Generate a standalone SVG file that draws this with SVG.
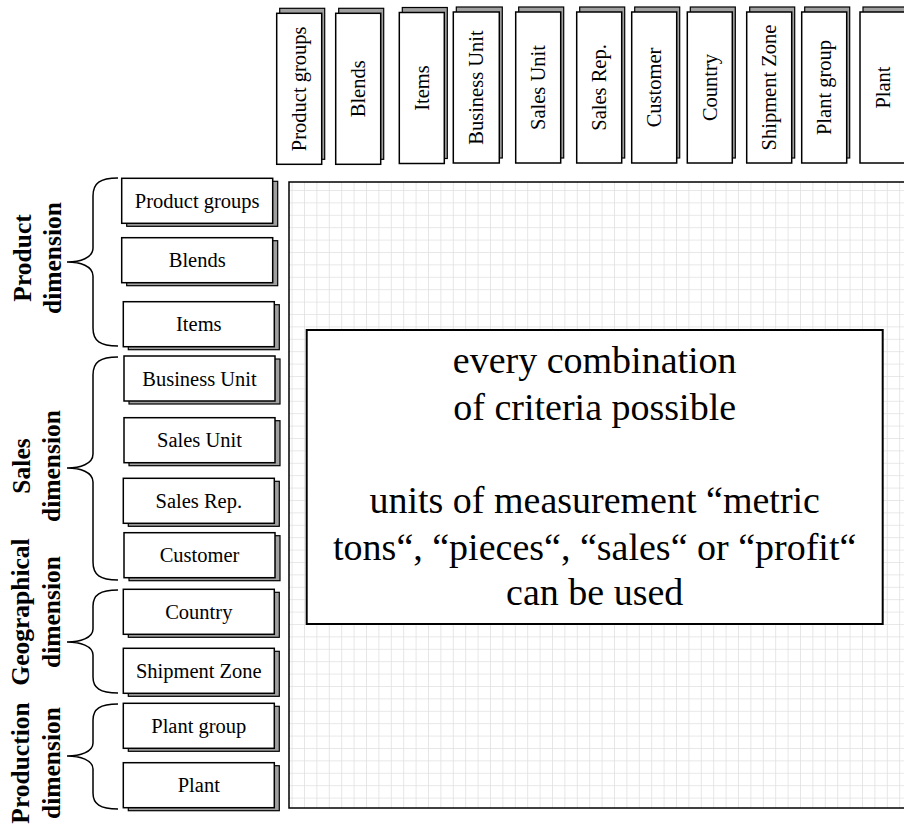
<svg xmlns="http://www.w3.org/2000/svg" width="904" height="825" viewBox="0 0 904 825">
<style>
.f{fill:#fff;stroke:#000;stroke-width:1.5}
.s{fill:#a0a0a0;stroke:#000;stroke-width:1.2}
.t{font-family:"Liberation Serif","Times New Roman",serif;font-size:20.5px;fill:#000;text-anchor:middle}
.d{font-family:"Liberation Serif","Times New Roman",serif;font-size:25.5px;font-weight:bold;fill:#000;text-anchor:middle}
.m{font-family:"Liberation Serif","Times New Roman",serif;font-size:38px;fill:#000;text-anchor:middle}
.b{fill:none;stroke:#000;stroke-width:1.5}
</style>
<defs>
<pattern id="grid" patternUnits="userSpaceOnUse" x="291.6" y="190" width="12.4" height="12.4">
<path d="M0,0H12.4M0,0V12.4" fill="none" stroke="#e0e0e0" stroke-width="1.6"/>
</pattern>
</defs>
<rect x="0" y="0" width="904" height="825" fill="#fff"/>

<g id="matrix">
<rect x="289" y="182" width="630" height="626" fill="url(#grid)" stroke="#000" stroke-width="1.5"/>
</g>
<g id="summary">
<rect x="306.7" y="330" width="576" height="294" fill="#fff" stroke="#000" stroke-width="2"/>
<text class="m" x="594.7" y="373">every combination</text>
<text class="m" x="594.7" y="420">of criteria possible</text>
<text class="m" x="594.7" y="513">units of measurement “metric</text>
<text class="m" x="594.7" y="560">tons“, “pieces“, “sales“ or “profit“</text>
<text class="m" x="594.7" y="605">can be used</text>
</g>

<!-- top column headers -->
<g id="col-product-groups"><rect class="s" x="279.7" y="8.3" width="45" height="151"/><rect class="f" x="276.7" y="13.3" width="45" height="151"/><text class="t" transform="translate(299.2,88.8) rotate(-90)" y="7">Product groups</text></g>
<g id="col-blends"><rect class="s" x="338.7" y="8.3" width="45" height="151"/><rect class="f" x="335.7" y="13.3" width="45" height="151"/><text class="t" transform="translate(358.2,88.8) rotate(-90)" y="7">Blends</text></g>
<g id="col-items"><rect class="s" x="402.3" y="7.5" width="45" height="151"/><rect class="f" x="399.3" y="12.5" width="45" height="151"/><text class="t" transform="translate(421.8,88) rotate(-90)" y="7">Items</text></g>
<g id="col-business-unit"><rect class="s" x="456.3" y="7" width="46" height="151"/><rect class="f" x="453.3" y="12" width="46" height="151"/><text class="t" transform="translate(476.3,87.5) rotate(-90)" y="7">Business Unit</text></g>
<g id="col-sales-unit"><rect class="s" x="518.7" y="7" width="45" height="151"/><rect class="f" x="515.7" y="12" width="45" height="151"/><text class="t" transform="translate(538.2,87.5) rotate(-90)" y="7">Sales Unit</text></g>
<g id="col-sales-rep"><rect class="s" x="579.7" y="7" width="45" height="151"/><rect class="f" x="576.7" y="12" width="45" height="151"/><text class="t" transform="translate(599.2,87.5) rotate(-90)" y="7">Sales Rep.</text></g>
<g id="col-customer"><rect class="s" x="634.7" y="7" width="45" height="151"/><rect class="f" x="631.7" y="12" width="45" height="151"/><text class="t" transform="translate(654.2,87.5) rotate(-90)" y="7">Customer</text></g>
<g id="col-country"><rect class="s" x="690.3" y="7" width="45" height="151"/><rect class="f" x="687.3" y="12" width="45" height="151"/><text class="t" transform="translate(709.8,87.5) rotate(-90)" y="7">Country</text></g>
<g id="col-shipment-zone"><rect class="s" x="749.7" y="7" width="45" height="151"/><rect class="f" x="746.7" y="12" width="45" height="151"/><text class="t" transform="translate(769.2,87.5) rotate(-90)" y="7">Shipment Zone</text></g>
<g id="col-plant-group"><rect class="s" x="804.7" y="7" width="45" height="151"/><rect class="f" x="801.7" y="12" width="45" height="151"/><text class="t" transform="translate(824.2,87.5) rotate(-90)" y="7">Plant group</text></g>
<g id="col-plant"><rect class="s" x="863" y="7" width="45" height="151"/><rect class="f" x="860" y="12" width="45" height="151"/><text class="t" transform="translate(882.5,87.5) rotate(-90)" y="7">Plant</text></g>

<!-- left row headers -->
<g id="row-product-groups"><rect class="s" x="126.7" y="181.3" width="151" height="45"/><rect class="f" x="121.7" y="178.3" width="151" height="45"/><text class="t" x="197.2" y="208">Product groups</text></g>
<g id="row-blends"><rect class="s" x="126.7" y="240.7" width="151" height="45"/><rect class="f" x="121.7" y="237.7" width="151" height="45"/><text class="t" x="197.2" y="267.4">Blends</text></g>
<g id="row-items"><rect class="s" x="128.3" y="304.7" width="151" height="45"/><rect class="f" x="123.3" y="301.7" width="151" height="45"/><text class="t" x="198.8" y="331.4">Items</text></g>
<g id="row-business-unit"><rect class="s" x="129" y="359" width="151" height="45"/><rect class="f" x="124" y="356" width="151" height="45"/><text class="t" x="199.5" y="385.7">Business Unit</text></g>
<g id="row-sales-unit"><rect class="s" x="129" y="420.7" width="151" height="45"/><rect class="f" x="124" y="417.7" width="151" height="45"/><text class="t" x="199.5" y="447.4">Sales Unit</text></g>
<g id="row-sales-rep"><rect class="s" x="128.3" y="481.3" width="151" height="45"/><rect class="f" x="123.3" y="478.3" width="151" height="45"/><text class="t" x="198.8" y="508">Sales Rep.</text></g>
<g id="row-customer"><rect class="s" x="129" y="535.7" width="151" height="45"/><rect class="f" x="124" y="532.7" width="151" height="45"/><text class="t" x="199.5" y="562.4">Customer</text></g>
<g id="row-country"><rect class="s" x="128.3" y="592.3" width="151" height="45"/><rect class="f" x="123.3" y="589.3" width="151" height="45"/><text class="t" x="198.8" y="619">Country</text></g>
<g id="row-shipment-zone"><rect class="s" x="128.3" y="651.3" width="151" height="45"/><rect class="f" x="123.3" y="648.3" width="151" height="45"/><text class="t" x="198.8" y="678">Shipment Zone</text></g>
<g id="row-plant-group"><rect class="s" x="128.3" y="706.3" width="151" height="45"/><rect class="f" x="123.3" y="703.3" width="151" height="45"/><text class="t" x="198.8" y="733">Plant group</text></g>
<g id="row-plant"><rect class="s" x="128.3" y="765.7" width="151" height="45"/><rect class="f" x="123.3" y="762.7" width="151" height="45"/><text class="t" x="198.8" y="792.4">Plant</text></g>

<!-- dimension labels -->
<g id="label-product"><text class="d" transform="translate(0,258) rotate(-90)"><tspan x="0" y="31">Product</tspan><tspan x="0" y="61">dimension</tspan></text></g>
<g id="label-sales"><text class="d" transform="translate(0,466) rotate(-90)"><tspan x="0" y="30">Sales</tspan><tspan x="0" y="60">dimension</tspan></text></g>
<g id="label-geographical"><text class="d" transform="translate(0,612) rotate(-90)"><tspan x="0" y="29">Geographical</tspan><tspan x="0" y="60">dimension</tspan></text></g>
<g id="label-production"><text class="d" transform="translate(0,763) rotate(-90)"><tspan x="0" y="29">Production</tspan><tspan x="0" y="60">dimension</tspan></text></g>

<!-- braces -->
<g id="connectors">
<path class="b" d="M118,178 C100,178 93,183 93,196 L93,248 C93,258 80,262 67,262 C80,262 93,266 93,276 L93,328 C93,341 100,346 118,346"/>
<path class="b" d="M118,357 C100,357 93,362 93,375 L93,454 C93,464 80,468 67,468 C80,468 93,472 93,482 L93,562 C93,575 100,580 118,580"/>
<path class="b" d="M118,590 C100,590 93,595 93,606 L93,629 C93,638 80,642 67,642 C80,642 93,646 93,655 L93,677 C93,688 100,693 118,693"/>
<path class="b" d="M118,704 C100,704 93,709 93,720 L93,743 C93,752 80,756 67,756 C80,756 93,760 93,769 L93,793 C93,804 100,809 118,809"/>
</g>
</svg>
